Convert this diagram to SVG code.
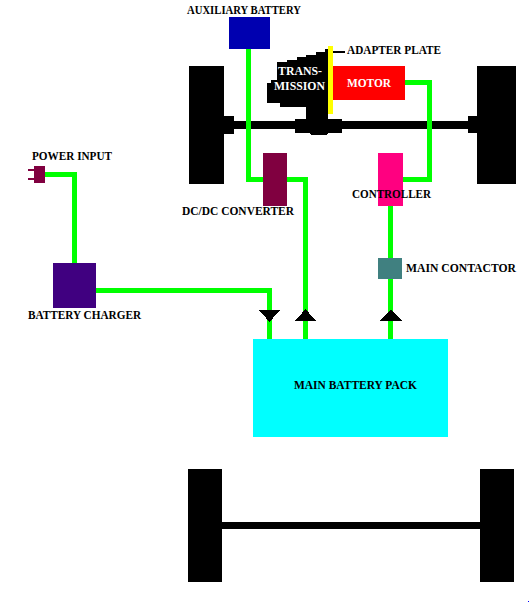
<svg xmlns="http://www.w3.org/2000/svg" width="529" height="602" viewBox="0 0 529 602">
<style>
rect,polygon,path{shape-rendering:crispEdges}
.k{fill:#000}
.w{fill:none;stroke:#0f0;stroke-width:5;stroke-linejoin:miter}
text{font-family:"Liberation Serif","Times New Roman",serif;font-weight:bold;font-size:12px;fill:#000}
.inv{fill:#fff}
</style>
<rect width="529" height="602" fill="#fff"/>
<g id="chassis">
<rect class="k" x="189" y="66" width="35" height="118"/>
<rect class="k" x="477" y="66" width="39" height="118"/>
<rect class="k" x="224" y="116" width="10" height="18"/>
<rect class="k" x="468" y="116" width="9" height="17"/>
<rect class="k" x="234" y="121" width="234" height="8"/>
<rect class="k" x="188" y="469" width="34" height="113"/>
<rect class="k" x="480" y="469" width="34" height="113"/>
<rect class="k" x="222" y="522" width="258" height="7"/>
</g>
<g id="transmission">
<polygon class="k" points="325,49 328,49 328,119 342,119 342,133 328,133 326,135 311,135 309,133 295,133 295,119 306,119 306,107 280,107 280,103 267,103 267,83 271,83 271,80 277,80 277,62 287,62 287,60 297,60 297,57 306,57 306,55 316,55 316,52 325,52"/>
<text class="inv" x="278" y="75" textLength="44" lengthAdjust="spacingAndGlyphs">TRANS-</text>
<text class="inv" x="274" y="90" textLength="51" lengthAdjust="spacingAndGlyphs">MISSION</text>
</g>
<g id="connectors">
<path class="w" d="M248.500 49V179.500H263"/>
<path class="w" d="M287 179.500H305.500V339"/>
<path class="w" d="M405 82.500H429.500V179.500H403"/>
<path class="w" d="M390.500 206V339"/>
<path class="w" d="M45 174.500H74.500V263"/>
<path class="w" d="M96 290.500H269.500V339"/>
<path d="M331 51.500H345" fill="none" stroke="#000" stroke-width="2"/>
<polygon class="k" points="259,310 280,310 269.500,322"/>
<polygon class="k" points="295,321 316,321 305.500,309"/>
<polygon class="k" points="380,321 402,321 391,309"/>
</g>
<g id="adapter-plate">
<rect x="328" y="46" width="5" height="68" fill="#ff0"/>
<text x="347" y="54" textLength="94" lengthAdjust="spacingAndGlyphs">ADAPTER PLATE</text>
</g>
<g id="auxiliary-battery">
<rect x="229" y="17" width="41" height="32" fill="#0000b0"/>
<text x="187" y="14" textLength="114" lengthAdjust="spacingAndGlyphs">AUXILIARY BATTERY</text>
</g>
<g id="motor">
<rect x="333" y="66" width="72" height="34" fill="#f00"/>
<text class="inv" x="347" y="87" textLength="44" lengthAdjust="spacingAndGlyphs">MOTOR</text>
</g>
<g id="dc-dc-converter">
<rect x="263" y="153" width="24" height="53" fill="#800040"/>
<text x="182" y="215" textLength="112" lengthAdjust="spacingAndGlyphs">DC/DC CONVERTER</text>
</g>
<g id="controller">
<rect x="378" y="153" width="25" height="53" fill="#ff0080"/>
<text x="352" y="198" textLength="79" lengthAdjust="spacingAndGlyphs">CONTROLLER</text>
</g>
<g id="main-contactor">
<rect x="378" y="258" width="24" height="21" fill="#408080"/>
<text x="406" y="272" textLength="110" lengthAdjust="spacingAndGlyphs">MAIN CONTACTOR</text>
</g>
<g id="power-input">
<rect x="34" y="166" width="11" height="17" fill="#800040"/>
<rect x="28" y="169" width="6" height="2" fill="#800040"/>
<rect x="28" y="178" width="6" height="2" fill="#800040"/>
<text x="32" y="160" textLength="80" lengthAdjust="spacingAndGlyphs">POWER INPUT</text>
</g>
<g id="battery-charger">
<rect x="53" y="263" width="43" height="45" fill="#400080"/>
<text x="28" y="319" textLength="113" lengthAdjust="spacingAndGlyphs">BATTERY CHARGER</text>
</g>
<g id="main-battery-pack">
<rect x="253" y="339" width="195" height="98" fill="#0ff"/>
<text x="294" y="389" textLength="123" lengthAdjust="spacingAndGlyphs">MAIN BATTERY PACK</text>
</g>
<rect x="528" y="601" width="1" height="1" fill="#00f"/>
</svg>
